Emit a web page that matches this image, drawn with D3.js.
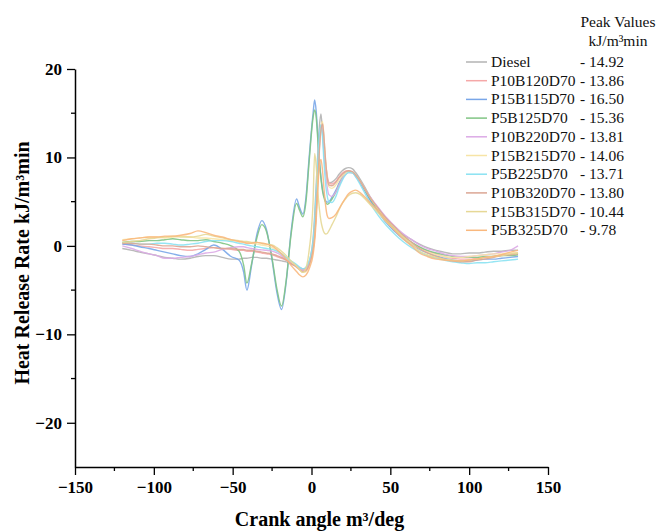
<!DOCTYPE html>
<html><head><meta charset="utf-8">
<script src="https://cdn.jsdelivr.net/npm/d3@7"></script>
<style>body{margin:0;background:#fff} svg{display:block} text{font-family:'Liberation Serif','Times New Roman',serif}</style>
</head><body>
<svg id="c" width="661" height="532"></svg>
<script>
const crankAngle = [-120,-114,-109,-103,-98,-93,-88,-83,-77,-72,-67,-62,-56.5,-51,-46,
  -43,-41,-38,-34.5,-31.5,-28.5,-25,-22,-19,-16,-13,-9.5,-7.5,-5.5,-3.5,-1.5,
  1,2,3,4,5,6,7,8,9,10,11,
  13,15.5,17.5,19.5,21.5,23.5,26,28,31,34,37,
  42.5,47.5,53,58,63.5,68.5,73.5,79,84,89.5,94.5,100,105,110,115.5,120.5,126,131];

const diesel = [-0.3,-0.5,-0.7,-0.9,-1.1,-1.3,-1.4,-1.5,-1.4,-1.2,-1.1,-1.1,-1.3,-1.5,-1.5,
  -1.4,-1.4,-1.3,-1.3,-1.4,-1.4,-1.5,-1.6,-1.7,-1.8,-2.0,-2.3,-2.5,-2.6,-2.5,-1.8,
  0.8,3.5,7.0,10.5,13.5,14.92,12.8,10.2,8.4,7.5,7.1,
  7.2,7.6,8.1,8.5,8.75,8.85,8.7,8.3,7.5,6.6,5.6,
  4.2,3.1,2.1,1.3,0.7,0.2,-0.2,-0.5,-0.7,-0.9,-0.9,-0.8,-0.8,-0.7,-0.6,-0.6,-0.5,-0.5];
const p10b120d70 = [0.2,0.1,0.0,-0.1,-0.2,-0.3,-0.3,-0.4,-0.5,-0.4,-0.3,-0.2,-0.3,-0.4,-0.5,
  -0.5,-0.6,-0.6,-0.7,-0.8,-0.9,-1.0,-1.2,-1.4,-1.6,-1.9,-2.2,-2.5,-2.7,-2.6,-2.0,
  -0.2,1.5,4.5,8.0,11.5,13.5,13.86,11.5,9.3,7.9,7.2,
  7.0,7.3,7.8,8.2,8.45,8.5,8.3,7.9,7.1,6.2,5.3,
  4.0,2.9,1.9,1.0,0.3,-0.2,-0.6,-0.9,-1.2,-1.4,-1.5,-1.5,-1.4,-1.3,-1.2,-1.0,-0.9,-0.8];
const p15b115d70 = [0.2,0.1,-0.1,-0.3,-0.5,-0.7,-0.9,-1.1,-1.2,-0.9,-0.4,0.1,-0.4,-1.2,-1.6,
  -3.0,-5.0,-2.2,1.4,2.86,1.8,-1.6,-5.2,-7.2,-4.0,1.5,5.3,4.3,3.6,5.5,10.0,
  15.0,16.5,15.2,12.5,9.8,7.8,6.4,5.6,5.1,4.95,5.0,
  5.5,6.3,7.1,7.8,8.2,8.4,8.3,7.9,7.1,6.2,5.2,
  3.8,2.6,1.6,0.8,0.1,-0.4,-0.8,-1.1,-1.4,-1.6,-1.7,-1.7,-1.6,-1.5,-1.5,-1.4,-1.3,-1.2];
const p5b125d70 = [0.4,0.5,0.5,0.6,0.6,0.7,0.8,0.7,0.6,0.6,0.7,0.5,0.3,0.0,-0.6,
  -2.2,-4.2,-2.0,1.0,2.4,1.6,-1.4,-4.8,-6.8,-3.8,1.2,4.8,4.0,3.3,5.0,9.5,
  14.5,15.36,14.5,12.0,9.5,7.6,6.2,5.4,4.9,4.7,4.8,
  5.3,6.1,6.9,7.6,8.1,8.35,8.3,8.0,7.2,6.3,5.4,
  4.0,2.9,1.9,1.1,0.4,-0.1,-0.5,-0.8,-1.0,-1.2,-1.3,-1.3,-1.3,-1.2,-1.2,-1.1,-1.1,-1.0];
const p10b220d70 = [0.0,-0.3,-0.6,-0.9,-1.1,-1.4,-1.4,-1.3,-1.2,-1.0,-0.8,-0.7,-0.4,-0.2,-0.1,
  -0.1,-0.2,-0.3,-0.4,-0.45,-0.5,-0.6,-0.8,-1.1,-1.5,-1.9,-2.3,-2.6,-2.8,-2.7,-2.1,
  -0.3,1.3,4.2,7.8,11.3,13.4,13.81,11.0,8.3,6.6,5.8,
  5.6,6.1,6.9,7.6,8.1,8.3,8.25,7.9,7.2,6.4,5.6,
  4.3,3.2,2.2,1.4,0.7,0.1,-0.3,-0.6,-0.9,-1.1,-1.2,-1.2,-1.1,-1.0,-0.9,-0.7,-0.5,0.0];
const p15b215d70 = [0.7,0.8,0.9,1.0,1.0,0.9,1.0,1.1,1.0,0.9,0.9,0.8,0.7,0.6,0.5,
  0.4,0.4,0.3,0.2,0.1,0.0,-0.2,-0.5,-0.9,-1.3,-1.8,-2.3,-2.7,-3.0,-2.9,-2.3,
  -0.4,1.2,4.0,7.5,11.0,13.3,14.06,12.0,9.4,7.6,6.7,
  6.5,6.9,7.4,7.9,8.2,8.35,8.3,8.0,7.3,6.4,5.5,
  4.1,3.0,2.0,1.1,0.3,-0.3,-0.7,-1.0,-1.2,-1.3,-1.3,-1.2,-1.1,-1.0,-0.9,-0.9,-0.8,-0.8];
const p5b225d70 = [0.3,0.3,0.2,0.2,0.3,0.3,0.2,0.1,0.2,0.3,0.5,0.6,0.6,0.5,0.3,
  0.2,0.1,0.0,-0.1,-0.2,-0.3,-0.4,-0.6,-0.9,-1.3,-1.7,-2.1,-2.4,-2.6,-2.4,-1.7,
  0.5,2.8,6.0,9.5,12.5,13.71,12.2,9.2,6.9,5.6,5.0,
  4.9,5.6,6.6,7.4,8.0,8.3,8.25,7.8,6.9,5.9,4.9,
  3.4,2.3,1.3,0.5,-0.2,-0.7,-1.1,-1.4,-1.6,-1.8,-1.9,-2.0,-1.9,-1.9,-1.8,-1.7,-1.6,-1.5];
const p10b320d70 = [0.3,0.3,0.2,0.2,0.1,0.0,0.0,-0.1,-0.1,0.0,-0.1,-0.2,-0.3,-0.3,-0.4,
  -0.4,-0.5,-0.5,-0.6,-0.7,-0.8,-0.9,-1.1,-1.3,-1.6,-2.0,-2.4,-2.7,-2.9,-2.8,-2.2,
  -0.4,1.0,3.8,7.2,10.8,13.1,13.80,12.0,9.5,7.7,6.9,
  6.8,7.2,7.7,8.1,8.4,8.5,8.4,8.0,7.3,6.4,5.5,
  4.2,3.1,2.1,1.2,0.4,-0.3,-0.8,-1.2,-1.5,-1.7,-1.8,-1.8,-1.6,-1.5,-1.3,-1.1,-1.0,-0.9];
const p15b315d70 = [0.4,0.5,0.6,0.8,0.9,1.0,1.1,1.0,1.0,1.1,1.3,1.1,0.9,0.7,0.6,
  0.5,0.5,0.4,0.4,0.3,0.2,0.1,-0.2,-0.6,-1.1,-1.7,-2.3,-2.7,-3.0,-2.5,-0.5,
  5.0,10.44,9.0,6.2,4.2,2.8,2.0,1.5,1.35,1.4,1.7,
  2.4,3.3,4.1,4.8,5.3,5.7,5.95,6.0,5.8,5.3,4.7,
  3.7,2.7,1.8,1.0,0.2,-0.6,-1.0,-1.3,-1.5,-1.6,-1.7,-1.6,-1.5,-1.3,-1.2,-1.1,-0.9,-0.8];
const p5b325d70 = [0.6,0.8,0.9,1.0,1.0,1.1,1.1,1.2,1.4,1.7,1.5,1.2,1.0,0.7,0.5,
  0.4,0.3,0.3,0.4,0.3,0.2,0.0,-0.4,-0.9,-1.5,-2.2,-2.9,-3.3,-3.5,-3.3,-2.6,
  -1.0,0.5,3.0,6.5,9.0,9.78,8.5,6.3,4.5,3.4,3.1,
  3.2,3.6,4.2,4.8,5.4,5.9,6.2,6.3,6.0,5.5,4.9,
  3.9,2.8,1.7,0.8,0.0,-0.8,-1.2,-1.5,-1.6,-1.7,-1.7,-1.6,-1.5,-1.3,-1.2,-1.0,-0.7,-0.5];

const seriesNames = ["Diesel","P10B120D70","P15B115D70","P5B125D70","P10B220D70","P15B215D70","P5B225D70","P10B320D70","P15B315D70","P5B325D70"];
const seriesValues = [diesel,p10b120d70,p15b115d70,p5b125d70,p10b220d70,p15b215d70,p5b225d70,p10b320d70,p15b315d70,p5b325d70];
const peakLabels = ["- 14.92","- 13.86","- 16.50","- 15.36","- 13.81","- 14.06","- 13.71","- 13.80","- 10.44","- 9.78"];
const seriesColors = ["#b3b3b3","#f5a8a8","#79a6e8","#80c484","#dcaae6","#f7e4a6","#8ae2f2","#dba694","#e6d896","#f9b87e"];

const xMajorTicks = [-150,-100,-50,0,50,100,150];
const xMinorTicks = [-125,-75,-25,25,75,125];
const yMajorTicks = [-20,-10,0,10,20];
const yMinorTicks = [-15,-5,5,15];

const svg = d3.select("#c");
const serif = "'Liberation Serif','Times New Roman',serif";
const x = d3.scaleLinear().domain([-150,150]).range([75,548]);
const y = d3.scaleLinear().domain([-25,20]).range([467,69]);

const line = d3.line().x((d,i)=>x(crankAngle[i])).y(d=>y(d)).curve(d3.curveMonotoneX);
const plot = svg.append("g");
seriesValues.forEach((vals,k)=>{
  plot.append("path").attr("d", line(vals)).attr("fill","none")
    .attr("stroke", seriesColors[k]).attr("stroke-width",1.4).attr("stroke-opacity",0.9)
    .attr("stroke-linejoin","round");
});

const xAxis = svg.append("g").attr("transform",`translate(0,${y(-25)})`)
  .call(d3.axisBottom(x).tickValues(xMajorTicks).tickSize(8).tickSizeOuter(0).tickPadding(6));
xAxis.selectAll(".tick line").attr("stroke","#000").attr("stroke-width",1.3);
xAxis.append("g").selectAll("line").data(xMinorTicks).join("line")
  .attr("x1",d=>x(d)).attr("x2",d=>x(d)).attr("y1",0).attr("y2",4).attr("stroke","#000").attr("stroke-width",1.3);
const yAxis = svg.append("g").attr("transform",`translate(${x(-150)},0)`)
  .call(d3.axisLeft(y).tickValues(yMajorTicks).tickSize(8).tickSizeOuter(0).tickPadding(5));
yAxis.selectAll(".tick line").attr("stroke","#000").attr("stroke-width",1.3);
yAxis.append("g").selectAll("line").data(yMinorTicks).join("line")
  .attr("y1",d=>y(d)).attr("y2",d=>y(d)).attr("x1",0).attr("x2",-4).attr("stroke","#000").attr("stroke-width",1.3);
[xAxis,yAxis].forEach(a=>{
  a.select(".domain").attr("stroke","#000").attr("stroke-width",1.5);
  a.selectAll(".tick text").style("font-family",serif).attr("font-weight","bold").attr("font-size",17).attr("fill","#000");
});

svg.append("text").attr("x",x(0)+8).attr("y",526).attr("text-anchor","middle")
  .style("font-family",serif).attr("font-weight","bold").attr("font-size",20).text("Crank angle m³/deg");
svg.append("text").attr("transform","translate(29,263) rotate(-90)").attr("text-anchor","middle")
  .style("font-family",serif).attr("font-weight","bold").attr("font-size",20).text("Heat Release Rate kJ/m³min");

const lg = svg.append("g");
const lt = (sel)=>sel.style("font-family",serif).attr("font-size",15.5).attr("fill","#111");
lt(lg.append("text").attr("x",618).attr("y",27).attr("text-anchor","middle").text("Peak Values"));
lt(lg.append("text").attr("x",618).attr("y",46).attr("text-anchor","middle").text("kJ/m³min"));
seriesNames.forEach((n,i)=>{
  const by = 67 + i*18.7;
  lg.append("line").attr("x1",466).attr("x2",487).attr("y1",by-5).attr("y2",by-5)
    .attr("stroke",seriesColors[i]).attr("stroke-width",1.5);
  lt(lg.append("text").attr("x",491).attr("y",by).text(n));
  lt(lg.append("text").attr("x",580).attr("y",by).text(peakLabels[i]));
});
</script>
</body></html>
